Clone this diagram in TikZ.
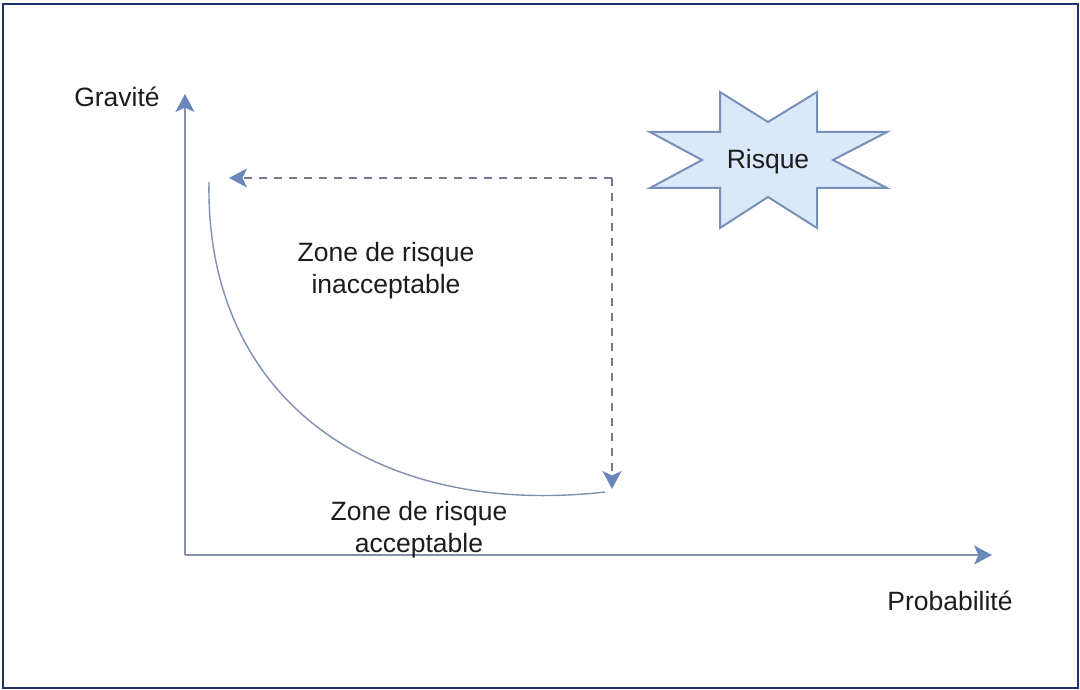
\documentclass[tikz,border=0pt]{standalone}
\usepackage{fontspec}
\setmainfont{Liberation Sans}
\usetikzlibrary{arrows.meta}
\definecolor{framecol}{HTML}{1B3366}
\definecolor{axiscol}{HTML}{8591AA}
\definecolor{tipcol}{HTML}{6A87BB}
\definecolor{curvecol}{HTML}{7F8FAE}
\definecolor{dashcol}{HTML}{737C8E}
\definecolor{starfill}{HTML}{DAE8FC}
\definecolor{starline}{HTML}{7890B8}
\definecolor{txtcol}{HTML}{1C1C1C}
\tikzset{
  label text/.style={text=txtcol, font=\fontsize{26.5}{32}\selectfont, align=center, inner sep=0pt},
  tipshape/.style={-{Stealth[length=18pt,width=19pt,inset=4.5pt,fill=tipcol,color=tipcol]}},
  axisline/.style={draw=axiscol, line width=1.8pt, tipshape},
  dashline/.style={draw=dashcol, line width=1.4pt, dash pattern=on 8pt off 7pt, tipshape},
  boundary/.style={draw=curvecol, line width=1.4pt},
  starshape/.style={fill=starfill, draw=starline, line width=2pt, line join=miter}
}
\begin{document}
\begin{tikzpicture}[x=1pt,y=-1pt]
  \useasboundingbox (0,0) rectangle (1080,690);
  % outer frame
  \draw[framecol, line width=2.5pt] (3,4) rectangle (1078,688);

  % axes
  \coordinate (o) at (185,555);
  \coordinate (ytop) at (185,94);
  \coordinate (xend) at (992,555);
  \draw[axisline] (o) -- (ytop);
  \draw[axisline] (o) -- (xend);
  \node[label text] (grav) at (117,97) {Gravité};
  \node[label text] (prob) at (950,601) {Probabilité};

  % boundary between the two zones
  \coordinate (cstart) at (209,182);
  \coordinate (cend) at (605,492);
  \draw[boundary] (cstart) .. controls (205,400) and (375,518) .. (cend);

  % dashed arrows from the risk corner
  \coordinate (corner) at (612,178);
  \coordinate (dleft) at (229,178);
  \coordinate (ddown) at (612,489);
  \draw[dashline] (corner) -- (dleft);
  \draw[dashline] (corner) -- (ddown);

  % zone labels
  \node[label text] (zinacc) at (386,271) {Zone de risque\\inacceptable};
  \node[label text] (zacc) at (419,530) {Zone de risque\\acceptable};

  % risk star
  \draw[starshape] (720,92) -- (768,122) -- (817,92) -- (817,132) -- (887,132)
    -- (833,160) -- (887,188) -- (817,188) -- (817,228) -- (768,197)
    -- (720,228) -- (720,188) -- (650,188) -- (702,160) -- (650,132)
    -- (720,132) -- cycle;
  \node[label text] (risque) at (768,162) {Risque};
\end{tikzpicture}
\end{document}
